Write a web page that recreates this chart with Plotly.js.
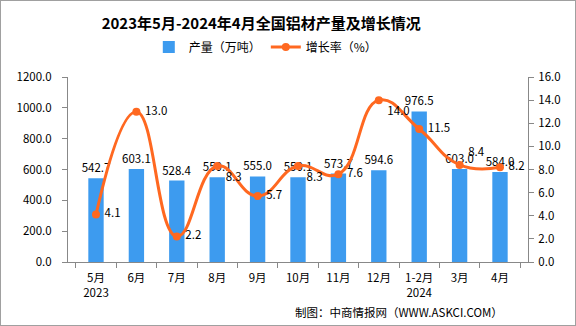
<!DOCTYPE html>
<html><head><meta charset="utf-8">
<script src="https://cdn.plot.ly/plotly-3.0.1.min.js"></script>
<style>body{margin:0;padding:0;background:#fff}#wrap{width:576px;height:326px;box-sizing:border-box;border:1px solid #a0a0a0}#chart{width:574px;height:324px}</style>
</head><body><div id="wrap"><div id="chart"></div></div>
<script>
const categories = ["5月<br>2023","6月","7月","8月","9月","10月","11月","12月","1-2月<br>2024","3月","4月"];
const output = [542.7, 603.1, 528.4, 550.1, 555.0, 550.1, 573.7, 594.6, 976.5, 603.0, 584.0];
const growth = [4.1, 13.0, 2.2, 8.3, 5.7, 8.3, 7.6, 14.0, 11.5, 8.4, 8.2];
const growthLabelPos = ["middle right","middle right","middle right","bottom right","middle right","bottom right","middle right","bottom right","middle right","top right","middle right"];

const F = '"Noto Sans CJK SC", "DejaVu Sans", sans-serif';
const bar = {
  type: 'bar', name: '产量（万吨）', x: categories, y: output,
  marker: {color: '#3D9BEF'},
  text: output.map(v => v.toFixed(1)), textposition: 'outside', cliponaxis: false, constraintext: 'none',
  textfont: {family: F, size: 11.5, color: '#000'}
};
const line = {
  type: 'scatter', mode: 'lines+markers+text', name: '增长率（%）', x: categories, y: growth, yaxis: 'y2',
  line: {color: '#FF6820', width: 3, shape: 'spline', smoothing: 1.3},
  marker: {color: '#FF6820', size: 8},
  text: growth.map(v => ' ' + v.toFixed(1)), textposition: growthLabelPos, cliponaxis: false,
  textfont: {family: F, size: 11.5, color: '#000'}
};
const layout = {
  width: 574, height: 324,
  margin: {l: 67, r: 47, t: 76, b: 63},
  paper_bgcolor: '#fff', plot_bgcolor: '#fff',
  font: {family: F, size: 11, color: '#000'},
  title: {text: '<b>2023年5月-2024年4月全国铝材产量及增长情况</b>', xref: 'paper', x: 0.42, xanchor: 'center', y: 0.93, yanchor: 'middle', font: {family: F, size: 15, color: '#000'}},
  showlegend: true,
  legend: {orientation: 'h', x: 0.43, xanchor: 'center', y: 1.162, yanchor: 'middle', font: {family: F, size: 12}, traceorder: 'normal', itemwidth: 30},
  bargap: 0.62,
  xaxis: {type: 'category', showline: true, linecolor: '#888', linewidth: 1, ticks: 'outside', tickson: 'boundaries', ticklen: 5, tickcolor: '#888', showgrid: false, ticklabelstandoff: 5, tickfont: {family: F, size: 11.5}},
  yaxis: {range: [0, 1200], dtick: 200, tickformat: '.1f', showline: true, linecolor: '#888', ticks: 'outside', ticklen: 5, tickcolor: '#888', showgrid: false, zeroline: false, ticklabelstandoff: 8, tickfont: {family: F, size: 11.5}},
  yaxis2: {range: [0, 16], dtick: 2, tickformat: '.1f', overlaying: 'y', side: 'right', showline: true, linecolor: '#888', ticks: 'outside', ticklen: 5, tickcolor: '#888', showgrid: false, zeroline: false, ticklabelstandoff: 2, tickfont: {family: F, size: 11.5}},
  annotations: [{text: '制图：中商情报网（WWW.ASKCI.COM）', xref: 'paper', yref: 'paper', x: 0.95, xanchor: 'right', y: -0.27, yanchor: 'middle', showarrow: false, font: {family: F, size: 11.5, color: '#000'}}]
};
Plotly.newPlot('chart', [bar, line], layout, {displayModeBar: false, staticPlot: true});
</script></body></html>
